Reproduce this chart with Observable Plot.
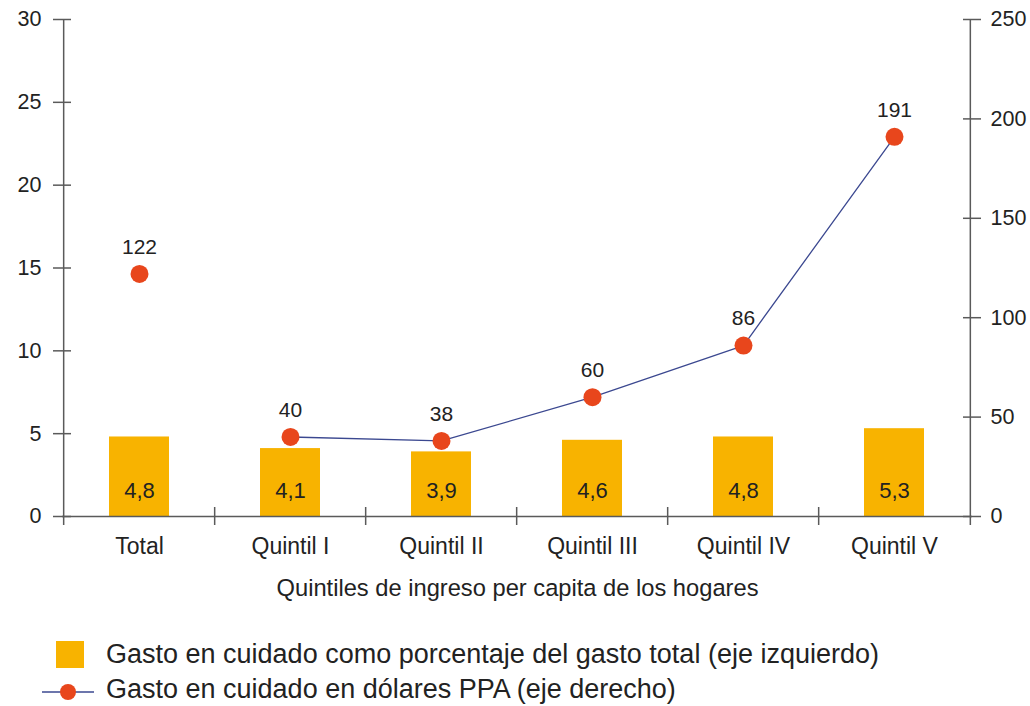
<!DOCTYPE html>
<html>
<head>
<meta charset="utf-8">
<script src="https://cdn.jsdelivr.net/npm/d3@7"></script>
<script src="https://cdn.jsdelivr.net/npm/@observablehq/plot@0.6"></script>
<style>
  html, body { margin: 0; padding: 0; background: #fff; overflow: hidden; }
  body { font-family: "Liberation Sans", Arial, sans-serif; color: #222; width: 1030px; }
  #legend { margin-top: 17px; font-size: 27px; }
  .row { display: flex; align-items: center; height: 35px; position: relative; }
  .sw { position: absolute; }
  .lbl { position: absolute; left: 106px; }
</style>
</head>
<body>
<div id="chart"></div>
<div id="legend"></div>
<script>
const categories = ["Total", "Quintil I", "Quintil II", "Quintil III", "Quintil IV", "Quintil V"];
const pctValues = [4.8, 4.1, 3.9, 4.6, 4.8, 5.3];
const usdValues = [122, 40, 38, 60, 86, 191];
const leftTicks = [0, 5, 10, 15, 20, 25, 30];
const rightTicks = [0, 50, 100, 150, 200, 250];
const xTitle = "Quintiles de ingreso per capita de los hogares";
const legendLabels = [
  "Gasto en cuidado como porcentaje del gasto total (eje izquierdo)",
  "Gasto en cuidado en dólares PPA (eje derecho)"
];

const barColor = "#F8B300";
const dotColor = "#E8461C";
const lineColor = "#3B4890";
const axisColor = "#5a5a5a";
const textColor = "#222";

const leftMax = 30, rightMax = 250;
const toLeft = v => v * leftMax / rightMax;

const data = categories.map((c, i) => ({cat: c, pct: pctValues[i], usd: usdValues[i]}));

const W = 1030, H = 620;
const mL = 62, mR = 58, mT = 19, mB = 104;
const frameW = W - mL - mR;
const step = frameW / categories.length;
const tickHalf = 9;
const yPerPx = leftMax / (H - mT - mB);

const chart = Plot.plot({
  width: W,
  height: H,
  marginLeft: mL,
  marginRight: mR,
  marginTop: mT,
  marginBottom: mB,
  style: {fontFamily: '"Liberation Sans", Arial, sans-serif', fontSize: "21px", color: textColor, background: "#fff"},
  x: {domain: categories, paddingInner: 0.6, paddingOuter: 0.3, label: null},
  y: {domain: [0, leftMax], label: null},
  marks: [
    Plot.barY(data, {x: "cat", y: "pct", fill: barColor}),
    // x axis line
    Plot.ruleY([0], {stroke: axisColor, strokeWidth: 1.5}),
    // left & right vertical axis lines
    Plot.ruleX([categories[0]], {x: d => d, dx: -step / 2, y1: -tickHalf * yPerPx, y2: leftMax, stroke: axisColor, strokeWidth: 1.5}),
    Plot.ruleX([categories[categories.length - 1]], {x: d => d, dx: step / 2, y1: -tickHalf * yPerPx, y2: leftMax, stroke: axisColor, strokeWidth: 1.5}),
    // category boundary ticks
    Plot.ruleX(categories.slice(1), {x: d => d, dx: -step / 2, y1: -tickHalf * yPerPx, y2: tickHalf * yPerPx, stroke: axisColor, strokeWidth: 1.5}),
    // left ticks crossing axis
    Plot.ruleY(leftTicks, {y: d => d, insetLeft: -tickHalf, insetRight: frameW - tickHalf, stroke: axisColor, strokeWidth: 1.5}),
    // right ticks crossing axis
    Plot.ruleY(rightTicks, {y: d => toLeft(d), insetLeft: frameW - tickHalf, insetRight: -tickHalf, stroke: axisColor, strokeWidth: 1.5}),
    Plot.axisY(leftTicks, {anchor: "left", tickSize: 0, tickPadding: 21, fontSize: 21.5, fill: textColor, tickFormat: d => String(d)}),
    Plot.axisY(rightTicks.map(toLeft), {anchor: "right", tickSize: 0, tickPadding: 18, fontSize: 21.5, fill: textColor, tickFormat: d => String(Math.round(d * rightMax / leftMax))}),
    Plot.axisX({tickSize: 0, tickPadding: 21, fontSize: 23, fill: textColor}),
    // bar value labels
    Plot.text(data, {x: "cat", y: 0, dy: -26, text: d => d.pct.toFixed(1).replace(".", ","), fontSize: 22, fill: textColor}),
    // line (quintiles only)
    Plot.line(data.slice(1), {x: "cat", y: d => toLeft(d.usd), stroke: lineColor, strokeWidth: 1.3}),
    Plot.dot(data, {x: "cat", y: d => toLeft(d.usd), r: 9, fill: dotColor, stroke: "none"}),
    Plot.text(data, {x: "cat", y: d => toLeft(d.usd), dy: -27, text: d => String(d.usd), fontSize: 21, fill: textColor}),
    // x axis title
    Plot.text([xTitle], {frameAnchor: "bottom", dy: 79, text: d => d, fontSize: 23.7, fill: textColor})
  ]
});
document.getElementById("chart").appendChild(chart);

const legend = document.getElementById("legend");
legend.innerHTML = `
  <div class="row">
    <svg class="sw" style="left:56px" width="28" height="27"><rect x="0" y="0" width="28" height="27" fill="${barColor}"/></svg>
    <span class="lbl">${legendLabels[0]}</span>
  </div>
  <div class="row">
    <svg class="sw" style="left:42px" width="52" height="20"><line x1="0" y1="12" x2="52" y2="12" stroke="${lineColor}" stroke-width="1.3"/><circle cx="26" cy="12" r="8" fill="${dotColor}"/></svg>
    <span class="lbl">${legendLabels[1]}</span>
  </div>`;
</script>
</body>
</html>
